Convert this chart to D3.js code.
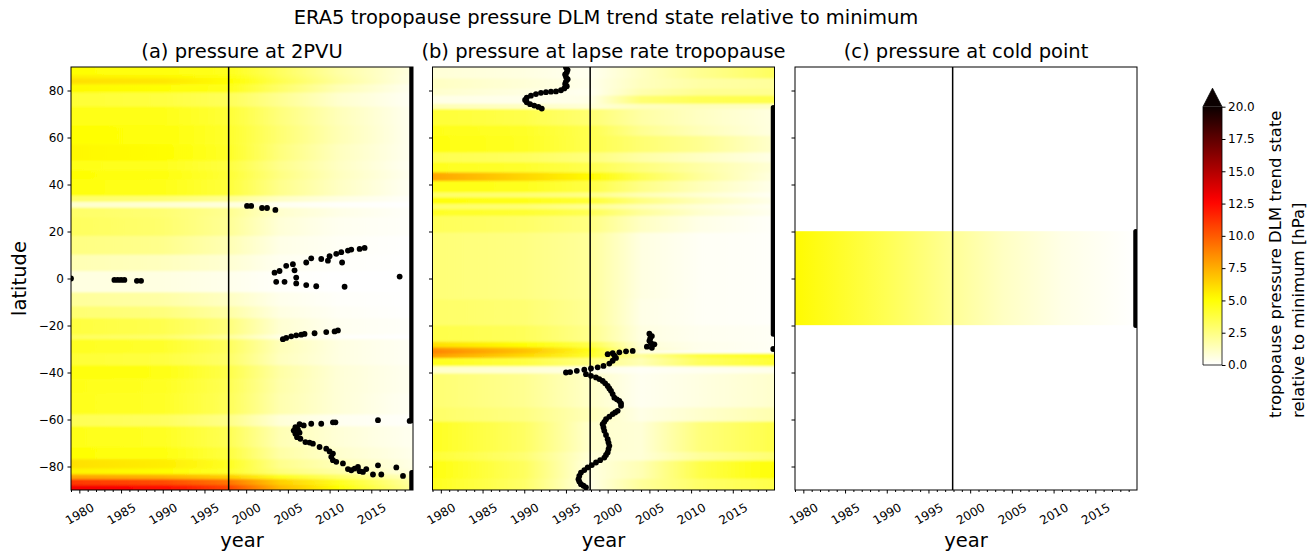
<!DOCTYPE html>
<html>
<head>
<meta charset="utf-8">
<script src="https://cdn.jsdelivr.net/npm/d3@7"></script>
<style>
body { margin: 0; background: #fff; }
text { font-family: "DejaVu Sans", sans-serif; fill: #000; }
</style>
</head>
<body>
<div id="chart"></div>
<script>
// ERA5 tropopause pressure DLM trend state relative to minimum

// Part I.

// years where each latitude band gets a value (colour stops of the band)
var knotYears = [1979, 1990, 1997.9, 2004, 2011, 2020];
var breakYear = 1997.9;
var edgeYear = 2019.85;

var panelTitles = ["(a) pressure at 2PVU", "(b) pressure at lapse rate tropopause", "(c) pressure at cold point"];
var xMajorTicks = [1980, 1985, 1990, 1995, 2000, 2005, 2010, 2015];
var yTicks = [-80, -60, -40, -20, 0, 20, 40, 60, 80];
var cbarTicks = [0, 2.5, 5, 7.5, 10, 12.5, 15, 17.5, 20];

// (a) 2PVU: band edges (lat) and values [hPa] at knotYears
var bandEdgesA = [90, 86.5, 85, 82.5, 79, 73, 65, 57, 50, 46, 42, 35, 32.5, 30, 26, 18, 10, 3, -6, -12, -17, -24, -26, -32, -37, -43, -49, -58, -63, -72, -77, -81, -83.5, -85.5, -88, -90];
var valuesA = [
    [5.0, 4.8, 4.5, 3.2, 1.8, 0.6],
    [5.5, 5.3, 4.8, 3.3, 1.9, 0.5],
    [6.0, 5.8, 5.1, 3.5, 2.0, 0.5],
    [5.2, 5.0, 4.6, 3.0, 1.5, 0.3],
    [4.0, 3.8, 3.3, 2.2, 1.0, 0.2],
    [4.7, 4.6, 4.0, 2.6, 1.4, 0.3],
    [5.0, 4.9, 4.2, 2.8, 1.5, 0.3],
    [5.3, 5.1, 4.3, 2.6, 1.3, 0.3],
    [4.6, 4.5, 3.8, 2.3, 1.2, 0.2],
    [5.0, 4.8, 4.0, 2.5, 1.3, 0.3],
    [4.8, 4.6, 3.9, 2.3, 1.2, 0.2],
    [3.0, 2.8, 2.2, 1.2, 0.6, 0.1],
    [1.0, 0.9, 0.7, 0.3, 0.1, 0.0],
    [3.0, 2.8, 2.2, 1.0, 0.5, 0.1],
    [3.2, 2.9, 2.1, 0.8, 0.3, 0.1],
    [2.5, 2.3, 1.5, 0.5, 0.2, 0.0],
    [1.5, 1.3, 0.9, 0.3, 0.1, 0.0],
    [0.6, 0.6, 0.4, 0.1, 0.0, 0.0],
    [2.0, 1.8, 1.2, 0.4, 0.1, 0.0],
    [2.8, 2.6, 1.8, 0.6, 0.2, 0.0],
    [3.8, 3.5, 2.6, 0.9, 0.3, 0.1],
    [3.2, 3.0, 2.0, 0.5, 0.1, 0.0],
    [4.4, 4.2, 3.2, 1.4, 0.6, 0.2],
    [4.0, 3.8, 3.0, 1.3, 0.6, 0.2],
    [4.9, 4.7, 3.6, 1.8, 0.8, 0.3],
    [4.6, 4.4, 3.4, 1.7, 0.8, 0.3],
    [4.5, 4.3, 3.3, 1.6, 0.8, 0.2],
    [3.4, 3.2, 2.4, 0.8, 0.3, 0.1],
    [4.6, 4.4, 3.4, 1.5, 0.8, 0.3],
    [5.0, 4.8, 3.8, 1.8, 1.0, 0.4],
    [6.0, 5.6, 4.4, 2.3, 1.4, 0.5],
    [5.4, 5.1, 4.2, 2.6, 1.8, 0.6],
    [7.8, 7.4, 6.5, 4.5, 3.0, 1.2],
    [11.0, 10.5, 9.2, 6.5, 4.5, 1.8],
    [13.0, 12.4, 10.6, 7.2, 5.0, 2.0]
];

// (b) lapse rate tropopause
var bandEdgesB = [90, 85, 80.6, 77.7, 74.2, 72, 65, 60.6, 53.5, 49.3, 45, 41.4, 36.5, 34.4, 31.5, 29.4, 26.5, 19.4, -9, -20, -27, -29.5, -31, -32, -34, -37.5, -40.5, -55, -61, -74, -77.6, -85.4, -90];
var valuesB = [
    [0.8, 0.6, 0.3, 1.2, 2.2, 3.2],
    [1.2, 0.8, 0.4, 1.3, 1.8, 2.0],
    [1.0, 0.6, 0.3, 1.6, 2.2, 2.2],
    [0.5, 0.4, 0.5, 2.8, 3.4, 3.6],
    [1.5, 1.2, 0.8, 1.3, 1.4, 1.2],
    [4.0, 3.6, 2.8, 1.8, 1.2, 0.6],
    [4.6, 4.3, 3.5, 2.2, 1.4, 0.6],
    [4.8, 4.4, 3.5, 2.8, 2.2, 1.0],
    [3.5, 3.2, 2.6, 1.8, 1.2, 0.5],
    [4.5, 4.2, 3.5, 2.6, 1.8, 0.8],
    [7.8, 6.3, 5.2, 3.4, 2.0, 0.6],
    [4.7, 4.5, 3.7, 2.4, 1.4, 0.4],
    [3.0, 2.8, 2.4, 1.5, 0.9, 0.2],
    [4.8, 4.6, 4.0, 2.5, 1.4, 0.4],
    [3.0, 2.8, 2.2, 1.4, 0.8, 0.2],
    [4.3, 4.1, 3.4, 2.0, 1.0, 0.3],
    [3.3, 3.0, 2.5, 1.2, 0.5, 0.1],
    [2.7, 2.5, 2.0, 0.6, 0.2, 0.1],
    [3.0, 2.8, 2.1, 0.5, 0.2, 0.1],
    [3.6, 3.3, 2.3, 0.6, 0.3, 0.2],
    [6.0, 5.0, 3.6, 0.8, 0.4, 0.2],
    [8.5, 6.8, 4.6, 1.0, 0.4, 0.2],
    [9.0, 7.0, 4.5, 0.4, 0.1, 0.0],
    [8.0, 6.2, 4.2, 2.0, 3.8, 4.6],
    [4.5, 3.8, 2.5, 1.5, 3.2, 4.0],
    [1.0, 0.8, 0.5, 0.2, 0.3, 0.4],
    [2.8, 2.2, 1.1, 0.3, 0.6, 1.0],
    [3.0, 2.5, 1.4, 0.5, 1.0, 1.6],
    [4.4, 3.1, 1.0, 0.8, 2.6, 3.6],
    [4.0, 2.8, 0.8, 0.8, 2.0, 2.8],
    [4.8, 3.2, 0.6, 1.5, 3.6, 5.0],
    [4.5, 3.0, 0.5, 2.0, 3.0, 3.6]
];

// (c) cold point
var bandEdgesC = [90, 20, -20, -90];
var valuesC = [
    [0, 0, 0, 0, 0, 0],
    [5.2, 3.4, 2.1, 1.2, 0.5, 0.0],
    [0, 0, 0, 0, 0, 0]
];

// time of minimum per latitude [year, lat]
var minDotsA = [
    [1979.0, 0], [1984.2, -0.6], [1984.6, -0.6], [1985.0, -0.6], [1985.4, -0.6], [1986.9, -1.0], [1987.4, -1.0],
    [2000.1, 30.9], [2000.6, 30.9], [2001.9, 30.0], [2002.5, 30.0], [2003.5, 29.2],
    [2003.4, 2.5], [2004.0, 3.2], [2004.8, 5.4], [2005.6, 6.1], [2005.8, 3.5], [2006.0, 0.4], [2006.0, -2.1],
    [2004.6, -1.4], [2003.6, -1.4], [2007.2, -2.8], [2008.4, -3.3], [2011.8, -3.5], [2007.2, 6.8],
    [2007.8, 8.6], [2009.0, 8.3], [2009.8, 7.6], [2010.0, 9.5], [2010.8, 10.5], [2011.4, 11.2], [2011.5, 6.8],
    [2012.2, 11.9], [2012.6, 12.3], [2013.6, 12.6], [2014.2, 13.0], [2018.4, 0.8],
    [2004.4, -25.8], [2004.8, -25.3], [2005.4, -24.6], [2006.0, -24.2], [2006.6, -23.9], [2007.0, -23.6],
    [2008.2, -23.3], [2009.6, -22.8], [2010.6, -22.5], [2011.0, -22.1],
    [2015.8, -60.3], [2019.6, -60.6],
    [2006.4, -62.0], [2006.9, -62.5], [2007.8, -61.8], [2009.0, -61.8], [2010.4, -61.2], [2010.7, -61.2],
    [2005.9, -63.3], [2005.7, -64.7], [2006.2, -64.2], [2005.9, -66.1], [2006.4, -65.6], [2006.1, -67.5],
    [2006.5, -68.2], [2007.1, -69.6], [2007.6, -69.8], [2008.0, -70.3], [2008.8, -71.7], [2009.6, -72.4],
    [2010.0, -73.6], [2010.4, -74.5], [2010.2, -75.9], [2010.4, -77.3], [2010.8, -78.0], [2011.6, -78.7],
    [2012.2, -81.1], [2012.6, -81.6], [2013.0, -80.9], [2013.4, -80.2], [2013.6, -82.0], [2014.0, -82.3],
    [2014.4, -81.1], [2015.2, -83.4], [2015.8, -79.5], [2016.2, -83.4], [2018.0, -80.4], [2018.8, -84.0]
];

var minDotsB = [
    [1995.0, 89.8], [1995.2, 88.8], [1995.1, 87.8], [1994.9, 86.8], [1995.0, 85.8], [1995.2, 84.8],
    [1995.0, 83.8], [1994.9, 82.8], [1995.1, 81.8], [1994.8, 80.9], [1994.4, 80.1], [1993.8, 79.6],
    [1993.2, 79.5], [1992.6, 79.3], [1992.0, 79.0], [1991.4, 78.5], [1990.8, 77.8], [1990.3, 77.0],
    [1990.1, 76.0], [1990.3, 75.0], [1990.7, 74.2], [1991.2, 73.6], [1991.7, 73.0], [1992.1, 72.3],
    [2005.0, -23.5], [2005.3, -24.5], [2005.1, -25.5], [2005.0, -26.5], [2005.2, -27.5], [2005.6, -28.0],
    [2004.7, -29.0], [2005.3, -29.5], [2003.0, -30.8], [2002.2, -31.0], [2001.4, -31.4], [2000.6, -31.8],
    [2000.0, -32.2], [2000.8, -32.8], [2001.0, -33.8], [2000.6, -35.0], [2000.2, -36.2], [1999.5, -37.2],
    [1998.8, -37.8], [1998.0, -38.3], [1997.2, -38.8], [1996.3, -39.3], [1995.5, -39.8], [1995.0, -40.0],
    [1997.4, -40.7], [1998.0, -41.4], [1998.6, -42.1], [1999.0, -42.8], [1999.4, -43.6], [1999.7, -44.6],
    [2000.0, -45.7], [2000.2, -46.8], [2000.4, -47.8], [2000.6, -49.2], [2000.8, -50.7], [2001.1, -51.4],
    [2001.4, -52.1], [2001.6, -53.2], [2001.6, -54.2], [2001.2, -56.3], [2000.9, -57.0], [2000.6, -57.7],
    [2000.2, -58.8], [1999.8, -59.9], [1999.6, -61.0], [1999.4, -62.0], [1999.5, -63.4], [1999.6, -64.8],
    [1999.8, -66.6], [2000.0, -68.4], [2000.1, -69.8], [2000.2, -71.2], [2000.1, -72.6], [2000.0, -74.0],
    [1999.8, -75.1], [1999.6, -76.2], [1999.1, -77.3], [1998.6, -78.3], [1998.1, -79.4], [1997.6, -80.4],
    [1997.2, -81.5], [1996.8, -82.6], [1996.6, -84.0], [1996.5, -85.4], [1996.6, -86.4], [1996.8, -87.5],
    [1997.1, -88.2], [1997.4, -88.9], [2019.85, -30.0]
];
var minDotsC = [];

// latitude runs where the minimum sits at the last time step
var edgeRunsA = [[90, -60.5], [-82.5, -90]];
var edgeRunsB = [[72.8, -23.7]];
var edgeRunsC = [[20, -20]];

var panels = [
    {edges: bandEdgesA, values: valuesA, dots: minDotsA, runs: edgeRunsA},
    {edges: bandEdgesB, values: valuesB, dots: minDotsB, runs: edgeRunsB},
    {edges: bandEdgesC, values: valuesC, dots: minDotsC, runs: edgeRunsC}
];

// Part II. Layout and scales

var svgWidth = 1314;
var svgHeight = 553;
var panelLeft = [71, 432.5, 795];
var panelTop = 67;
var width = 342;
var height = 423;

var svg = d3.select("#chart")
    .append("svg")
    .attr("width", svgWidth)
    .attr("height", svgHeight);
var defs = svg.append("defs");

// soften the band edges a little in latitude
defs.append("filter")
    .attr("id", "soften")
    .attr("x", "-5%").attr("y", "-5%").attr("width", "110%").attr("height", "110%")
    .append("feGaussianBlur")
    .attr("stdDeviation", "0 0.9");

var xScale = d3.scaleLinear().domain([1979, 2020]).range([0, width]);
var yScale = d3.scaleLinear().domain([-90, 90]).range([height, 0]);

// matplotlib "hot_r"
var color = d3.scaleLinear()
    .domain([0, 5.08, 12.7, 20])
    .range(["#ffffff", "#ffff00", "#ff0000", "#0b0000"])
    .clamp(true);

var minorYears = d3.range(1979, 2020).filter(d => xMajorTicks.indexOf(d) < 0);

// suptitle
svg.append("text")
    .attr("x", 606)
    .attr("y", 24)
    .attr("text-anchor", "middle")
    .attr("font-size", "19.5px")
    .text("ERA5 tropopause pressure DLM trend state relative to minimum");

panels.forEach(function(p, i) {
    var g = svg.append("g")
        .attr("transform", "translate(" + panelLeft[i] + "," + panelTop + ")");

    defs.append("clipPath")
        .attr("id", "clip" + i)
        .append("rect")
        .attr("width", width)
        .attr("height", height);

    // heatmap bands, each a gradient along time
    var bands = g.append("g")
        .attr("clip-path", "url(#clip" + i + ")")
        .append("g")
        .attr("filter", i < 2 ? "url(#soften)" : null);
    p.values.forEach(function(row, j) {
        var gid = "grad" + i + "_" + j;
        var grad = defs.append("linearGradient")
            .attr("id", gid)
            .attr("gradientUnits", "userSpaceOnUse")
            .attr("x1", xScale(knotYears[0])).attr("x2", xScale(knotYears[knotYears.length - 1]))
            .attr("y1", 0).attr("y2", 0);
        row.forEach(function(v, k) {
            grad.append("stop")
                .attr("offset", (knotYears[k] - knotYears[0]) / (knotYears[knotYears.length - 1] - knotYears[0]))
                .attr("stop-color", color(v));
        });
        var y0 = yScale(p.edges[j]);
        var y1 = yScale(p.edges[j + 1]);
        // first and last band run past the frame so the blur keeps the edges solid
        if (j == 0) y0 -= 8;
        if (j == p.values.length - 1) y1 += 8;
        bands.append("rect")
            .attr("x", -4)
            .attr("y", y0 - 0.3)
            .attr("width", width + 8)
            .attr("height", y1 - y0 + 0.6)
            .attr("fill", "url(#" + gid + ")");
    });

    // vertical line
    g.append("line")
        .attr("x1", xScale(breakYear)).attr("x2", xScale(breakYear))
        .attr("y1", 0).attr("y2", height)
        .attr("stroke", "#000")
        .attr("stroke-width", 1.5);

    // minimum dots
    var marks = g.append("g").attr("clip-path", "url(#clip" + i + ")");
    marks.selectAll("circle")
        .data(p.dots)
        .enter()
        .append("circle")
        .attr("cx", d => xScale(d[0]))
        .attr("cy", d => yScale(d[1]))
        .attr("r", 2.9)
        .attr("fill", "#000");
    marks.selectAll("line")
        .data(p.runs)
        .enter()
        .append("line")
        .attr("x1", xScale(edgeYear)).attr("x2", xScale(edgeYear))
        .attr("y1", d => yScale(d[0])).attr("y2", d => yScale(d[1]))
        .attr("stroke", "#000")
        .attr("stroke-width", 5)
        .attr("stroke-linecap", "round");

    // axes
    var xAxis = g.append("g")
        .attr("transform", "translate(0," + height + ")")
        .call(d3.axisBottom(xScale).tickValues(xMajorTicks).tickSize(3.5).tickFormat(d3.format("d")));
    xAxis.select(".domain").remove();
    xAxis.selectAll("text")
        .attr("font-size", "12px")
        .attr("text-anchor", "middle")
        .attr("dy", null)
        .attr("y", 0)
        .attr("dominant-baseline", "central")
        .attr("transform", "translate(0,24) rotate(-30)");
    var xMinor = g.append("g")
        .attr("transform", "translate(0," + height + ")")
        .call(d3.axisBottom(xScale).tickValues(minorYears).tickSize(2).tickFormat(""));
    xMinor.select(".domain").remove();

    var yAxis = g.append("g")
        .call(d3.axisLeft(yScale).tickValues(yTicks).tickSize(3.5)
            .tickFormat(i == 0 ? d3.format("d") : ""));
    yAxis.select(".domain").remove();
    yAxis.selectAll("text").attr("font-size", "12px").attr("x", -7);

    // frame
    g.append("rect")
        .attr("width", width)
        .attr("height", height)
        .attr("fill", "none")
        .attr("stroke", "#000")
        .attr("stroke-width", 1);

    g.append("text")
        .attr("x", width / 2)
        .attr("y", -9)
        .attr("text-anchor", "middle")
        .attr("font-size", "19.5px")
        .text(panelTitles[i]);

    g.append("text")
        .attr("x", width / 2)
        .attr("y", height + 57)
        .attr("text-anchor", "middle")
        .attr("font-size", "19.5px")
        .text("year");
});

svg.append("text")
    .attr("transform", "translate(26," + (panelTop + height / 2) + ") rotate(-90)")
    .attr("text-anchor", "middle")
    .attr("font-size", "19.5px")
    .text("latitude");

// Part III. Colorbar
var cbX = 1203;
var cbW = 19;
var cbTop = 106.7;
var cbBottom = 365;
var cbScale = d3.scaleLinear().domain([0, 20]).range([cbBottom, cbTop]);

var cgrad = defs.append("linearGradient")
    .attr("id", "cbarGrad")
    .attr("x1", 0).attr("y1", 1).attr("x2", 0).attr("y2", 0);
d3.range(0, 20.01, 0.5).forEach(function(v) {
    cgrad.append("stop").attr("offset", v / 20).attr("stop-color", color(v));
});

var cb = svg.append("g").attr("transform", "translate(" + cbX + ",0)");
cb.append("rect")
    .attr("y", cbTop)
    .attr("width", cbW)
    .attr("height", cbBottom - cbTop)
    .attr("fill", "url(#cbarGrad)");
cb.append("path")
    .attr("d", "M0," + cbTop + "L" + (cbW / 2) + "," + (cbTop - 18.5) + "L" + cbW + "," + cbTop + "Z")
    .attr("fill", color(20));
cb.append("path")
    .attr("d", "M0," + cbTop + "L" + (cbW / 2) + "," + (cbTop - 18.5) + "L" + cbW + "," + cbTop + "L" + cbW + "," + cbBottom + "L0," + cbBottom + "Z")
    .attr("fill", "none")
    .attr("stroke", "#000")
    .attr("stroke-width", 0.8);

var cbAxis = cb.append("g")
    .attr("transform", "translate(" + cbW + ",0)")
    .call(d3.axisRight(cbScale).tickValues(cbarTicks).tickSize(3.5).tickFormat(d3.format(".1f")));
cbAxis.select(".domain").remove();
cbAxis.selectAll("text").attr("font-size", "12px").attr("x", 6);

var cbLabel = svg.append("text")
    .attr("transform", "translate(1281,418) rotate(-90)")
    .attr("font-size", "16.5px");
cbLabel.append("tspan").attr("x", 0).attr("y", 0).text("tropopause pressure DLM trend state");
cbLabel.append("tspan").attr("x", 0).attr("y", 23).text("relative to minimum [hPa]");
</script>
</body>
</html>
